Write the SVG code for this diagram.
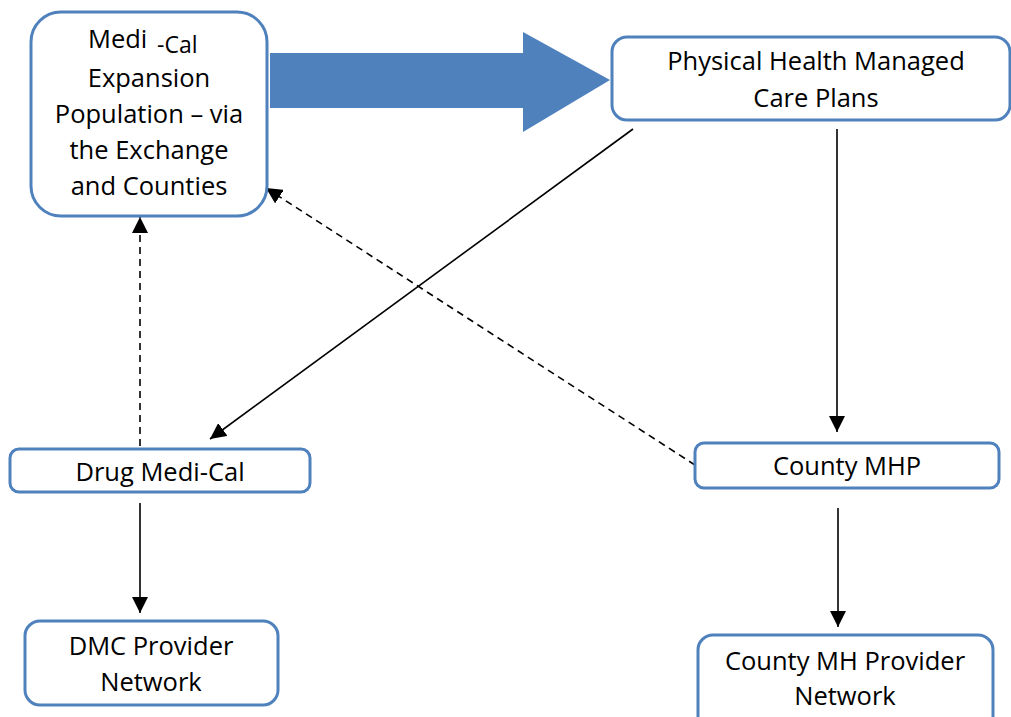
<svg xmlns="http://www.w3.org/2000/svg" width="1011" height="717" viewBox="0 0 1011 717">
<style>
.box{fill:#fff;stroke:#4F81BD;stroke-width:3}
.t{font-family:"Open Sans","Liberation Sans",sans-serif;font-size:25.5px;fill:#000;text-anchor:middle}
.c{fill:none;stroke:#000;stroke-width:1.6}
.d{stroke-dasharray:7 5}
</style>
<defs>
<marker id="ah" markerUnits="userSpaceOnUse" markerWidth="16" markerHeight="16" viewBox="0 0 16 16" refX="16" refY="8" orient="auto">
<path d="M0,0 L16,8 L0,16 Z" fill="#000"/>
</marker>
</defs>
<rect width="1011" height="717" fill="#fff"/>
<g id="connectors">
<path d="M270,53 H523 V32 L610,80 L523,132 V108 H270 Z" fill="#4F81BD"/>
<line class="c" x1="633" y1="129" x2="210" y2="439" marker-end="url(#ah)"/>
<line class="c" x1="837" y1="129" x2="837" y2="432" marker-end="url(#ah)"/>
<line class="c d" x1="695" y1="465" x2="266" y2="188" marker-end="url(#ah)"/>
<line class="c d" x1="140" y1="446" x2="140" y2="217" marker-end="url(#ah)"/>
<line class="c" x1="140" y1="503" x2="140" y2="613" marker-end="url(#ah)"/>
<line class="c" x1="838" y1="508" x2="838" y2="627" marker-end="url(#ah)"/>
</g>
<g id="medi-cal-expansion">
<rect class="box" x="31" y="12" width="236" height="204" rx="30"/>
<text class="t" style="text-anchor:start"><tspan x="88" y="48">Medi</tspan><tspan x="157" y="53" font-size="23">-Cal</tspan></text>
<text class="t" x="149" y="87">Expansion</text>
<text class="t" x="149" y="123">Population – via</text>
<text class="t" x="149" y="159">the Exchange</text>
<text class="t" x="149" y="195">and Counties</text>
</g>
<g id="physical-health">
<rect class="box" x="612" y="37" width="398" height="83" rx="15"/>
<text class="t" x="816" y="70">Physical Health Managed</text>
<text class="t" x="816" y="107">Care Plans</text>
</g>
<g id="drug-medi-cal">
<rect class="box" x="10" y="449" width="300" height="43" rx="9"/>
<text class="t" x="160" y="481">Drug Medi-Cal</text>
</g>
<g id="county-mhp">
<rect class="box" x="695" y="443" width="304" height="45" rx="9"/>
<text class="t" x="847" y="475">County MHP</text>
</g>
<g id="dmc-provider">
<rect class="box" x="25" y="621" width="253" height="84" rx="15"/>
<text class="t" x="151" y="655">DMC Provider</text>
<text class="t" x="151" y="691">Network</text>
</g>
<g id="county-mh-provider">
<rect class="box" x="698" y="635" width="295" height="100" rx="15"/>
<text class="t" x="845" y="670">County MH Provider</text>
<text class="t" x="845" y="705">Network</text>
</g>
</svg>
